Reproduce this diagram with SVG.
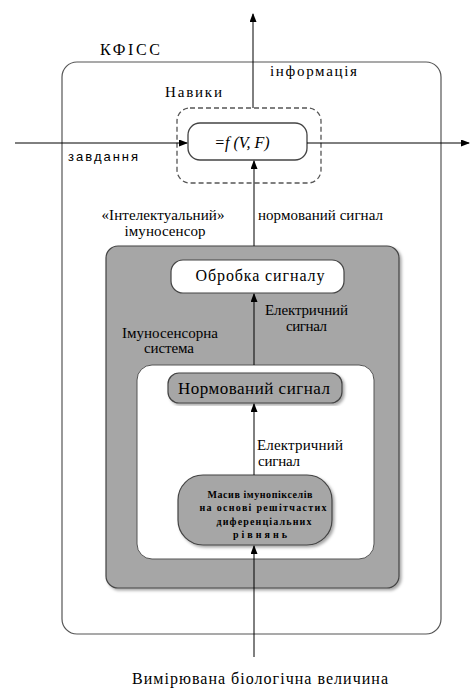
<svg xmlns="http://www.w3.org/2000/svg" width="470" height="689" viewBox="0 0 470 689">
<style>
text{font-family:"Liberation Serif","DejaVu Serif","Times New Roman",serif;fill:#000}
.t14{font-size:15px}
.t15{font-size:16px}
.sans{font-family:"Liberation Sans",Arial,sans-serif;font-size:13px}
.bold{font-size:10px;font-weight:bold}
.ln{stroke:#000;stroke-width:1;fill:none}
</style>
<defs>
<marker id="ah" markerWidth="9" markerHeight="7" refX="8" refY="3.5" orient="auto" markerUnits="userSpaceOnUse">
<path d="M0,0 L9,3.5 L0,7 Z" fill="#000"/>
</marker>
<filter id="sh" x="-5%" y="-5%" width="115%" height="115%">
<feDropShadow dx="2" dy="2" stdDeviation="1.5" flood-color="#000" flood-opacity="0.35"/>
</filter>
</defs>

<g id="kfiss">
<rect x="62" y="62" width="379" height="572" rx="15" fill="#fff" stroke="#555" stroke-width="1.2"/>
<text class="t15" x="100" y="55" textLength="60">КФІСС</text>
<text class="t14" x="270" y="76" textLength="87">інформація</text>
</g>

<g id="navyky">
<rect x="177" y="108" width="144" height="75" rx="13" fill="none" stroke="#555" stroke-width="1.3" stroke-dasharray="5,3"/>
<text class="t14" x="165" y="97" textLength="57">Навики</text>
</g>

<g id="func">
<rect x="188" y="123" width="119" height="37" rx="12" fill="#fff" stroke="#444" stroke-width="1.3"/>
<text class="t15" x="242" y="148" text-anchor="middle" font-style="italic">=f (V, F)</text>
</g>

<g id="immunosensor">
<rect x="106" y="246" width="293" height="342" rx="12" fill="#a6a6a6" stroke="#444" stroke-width="1.2" filter="url(#sh)"/>
<text class="t14" x="163" y="220" text-anchor="middle" textLength="123">«Інтелектуальний»</text>
<text class="t14" x="165" y="236" text-anchor="middle" textLength="81">імуносенсор</text>
</g>

<g id="obrobka">
<rect x="171" y="260" width="173" height="33" rx="12" fill="#fff" stroke="#444" stroke-width="1.2"/>
<text class="t15" x="260" y="281" text-anchor="middle" textLength="129">Обробка сигналу</text>
</g>

<g id="system">
<rect x="137" y="365" width="237" height="194" rx="15" fill="#fff" stroke="#555" stroke-width="1"/>
<text class="t14" x="170" y="338" text-anchor="middle" textLength="96">Імуносенсорна</text>
<text class="t14" x="169" y="353" text-anchor="middle" textLength="50">система</text>
</g>

<g id="normovanyi">
<rect x="168" y="373" width="174" height="30" rx="11" fill="#a6a6a6" stroke="#444" stroke-width="1.2" filter="url(#sh)"/>
<text x="254" y="394" text-anchor="middle" font-size="17" textLength="152">Нормований сигнал</text>
</g>

<g id="masyv">
<rect x="178" y="475" width="154" height="70" rx="25" fill="#a6a6a6" stroke="#444" stroke-width="1.2" filter="url(#sh)"/>
<text class="bold" x="260" y="498" text-anchor="middle" textLength="105">Масив імунопікселів</text>
<text class="bold" x="263" y="511" text-anchor="middle" textLength="127">на основі решітчастих</text>
<text class="bold" x="264" y="525" text-anchor="middle" textLength="95">диференціальних</text>
<text class="bold" x="260" y="538" text-anchor="middle" textLength="54">рівнянь</text>
</g>

<g id="connectors">
<line class="ln" x1="253" y1="108" x2="253" y2="14" marker-end="url(#ah)"/>
<line class="ln" x1="15" y1="143" x2="187" y2="143" marker-end="url(#ah)"/>
<line class="ln" x1="307" y1="143" x2="469" y2="143" marker-end="url(#ah)"/>
<line class="ln" x1="254" y1="246" x2="254" y2="161" marker-end="url(#ah)"/>
<line class="ln" x1="254" y1="365" x2="254" y2="294" marker-end="url(#ah)"/>
<line class="ln" x1="254" y1="475" x2="254" y2="404" marker-end="url(#ah)"/>
<line class="ln" x1="254" y1="657" x2="254" y2="546" marker-end="url(#ah)"/>
<text class="sans" x="68" y="161" textLength="70">завдання</text>
<text class="t14" x="258" y="220" textLength="125">нормований сигнал</text>
<text class="t14" x="265" y="315" textLength="83">Електричний</text>
<text class="t14" x="286" y="331" textLength="41">сигнал</text>
<text class="t14" x="257" y="450" textLength="86">Електричний</text>
<text class="t14" x="258" y="466" textLength="42">сигнал</text>
<text class="t15" x="260" y="684" text-anchor="middle" textLength="256">Вимірювана біологічна величина</text>
</g>
</svg>
